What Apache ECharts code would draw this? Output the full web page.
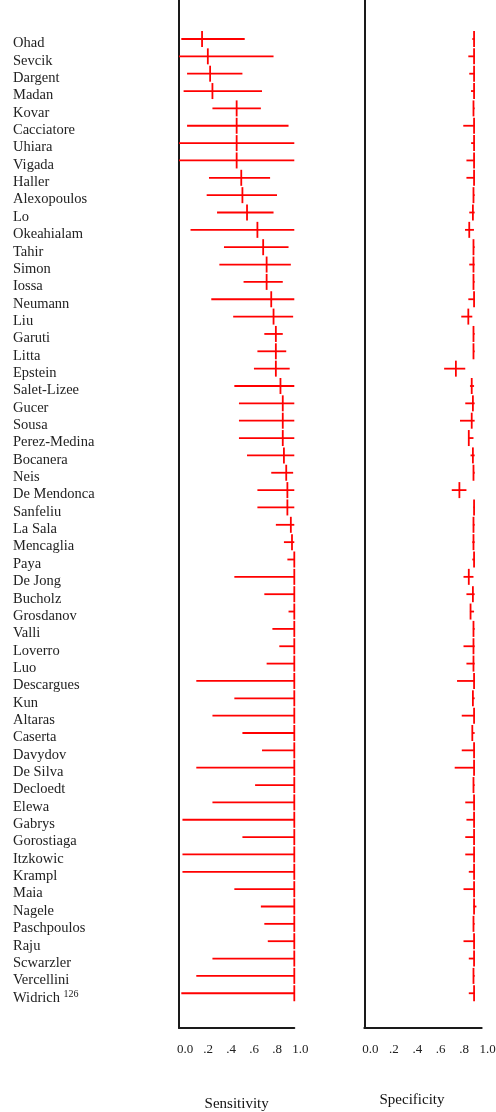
<!DOCTYPE html>
<html><head><meta charset="utf-8">
<script src="https://cdn.jsdelivr.net/npm/echarts@6/dist/echarts.min.js"></script>
<style>html,body{margin:0;padding:0;background:#fff}#c{width:496px;height:1112px}</style>
</head><body><div id="c"></div>
<script>
const studies = ["Ohad","Sevcik","Dargent","Madan","Kovar","Cacciatore","Uhiara","Vigada","Haller","Alexopoulos",
"Lo","Okeahialam","Tahir","Simon","Iossa","Neumann","Liu","Garuti","Litta","Epstein",
"Salet-Lizee","Gucer","Sousa","Perez-Medina","Bocanera","Neis","De Mendonca","Sanfeliu","La Sala","Mencaglia",
"Paya","De Jong","Bucholz","Grosdanov","Valli","Loverro","Luo","Descargues","Kun","Altaras",
"Caserta","Davydov","De Silva","Decloedt","Elewa","Gabrys","Gorostiaga","Itzkowic","Krampl","Maia",
"Nagele","Paschpoulos","Raju","Scwarzler","Vercellini","Widrich 126"];

const sensPoint = [0.20,0.25,0.27,0.29,0.50,0.50,0.50,0.50,0.54,0.55,
0.59,0.68,0.73,0.76,0.76,0.80,0.82,0.84,0.84,0.84,
0.88,0.90,0.90,0.90,0.91,0.93,0.94,0.94,0.97,0.98,
1.00,1.00,1.00,1.00,1.00,1.00,1.00,1.00,1.00,1.00,
1.00,1.00,1.00,1.00,1.00,1.00,1.00,1.00,1.00,1.00,
1.00,1.00,1.00,1.00,1.00,1.00];
const sensLower = [0.02,0.00,0.07,0.04,0.29,0.07,0.00,0.00,0.26,0.24,
0.33,0.10,0.39,0.35,0.56,0.28,0.47,0.74,0.68,0.65,
0.48,0.52,0.52,0.52,0.59,0.80,0.68,0.68,0.84,0.91,
0.94,0.48,0.74,0.95,0.81,0.87,0.76,0.15,0.48,0.29,
0.55,0.72,0.15,0.66,0.29,0.03,0.55,0.03,0.03,0.48,
0.71,0.74,0.77,0.29,0.15,0.02];
const sensUpper = [0.57,0.82,0.55,0.72,0.71,0.95,1.00,1.00,0.79,0.85,
0.82,1.00,0.95,0.97,0.90,1.00,0.99,0.90,0.93,0.96,
1.00,1.00,1.00,1.00,1.00,0.99,1.00,1.00,1.00,1.00,
1.00,1.00,1.00,1.00,1.00,1.00,1.00,1.00,1.00,1.00,
1.00,1.00,1.00,1.00,1.00,1.00,1.00,1.00,1.00,1.00,
1.00,1.00,1.00,1.00,1.00,1.00];

const specPoint = [0.935,0.935,0.935,0.935,0.930,0.935,0.935,0.935,0.935,0.930,
0.925,0.894,0.930,0.930,0.930,0.935,0.886,0.930,0.930,0.780,
0.915,0.925,0.915,0.890,0.925,0.930,0.810,0.935,0.930,0.930,
0.935,0.890,0.925,0.905,0.930,0.930,0.930,0.935,0.925,0.935,
0.920,0.935,0.935,0.930,0.935,0.935,0.935,0.935,0.935,0.935,
0.935,0.930,0.935,0.935,0.930,0.935];
const specLower = [0.920,0.886,0.894,0.909,0.930,0.843,0.910,0.870,0.870,0.930,
0.894,0.858,0.930,0.894,0.930,0.886,0.826,0.930,0.930,0.680,
0.900,0.860,0.815,0.890,0.905,0.930,0.745,0.930,0.925,0.920,
0.920,0.845,0.870,0.900,0.925,0.845,0.870,0.790,0.920,0.830,
0.920,0.830,0.770,0.930,0.860,0.870,0.860,0.860,0.890,0.845,
0.930,0.930,0.845,0.890,0.930,0.890];
const specUpper = [0.940,0.940,0.940,0.940,0.940,0.940,0.940,0.940,0.940,0.940,
0.940,0.934,0.940,0.940,0.940,0.940,0.920,0.940,0.940,0.860,
0.935,0.940,0.940,0.930,0.940,0.940,0.870,0.940,0.940,0.940,
0.940,0.930,0.940,0.935,0.940,0.940,0.940,0.940,0.940,0.940,
0.940,0.940,0.940,0.940,0.940,0.940,0.940,0.940,0.940,0.940,
0.955,0.940,0.940,0.940,0.940,0.940];

const xTicks = {0:"0.0",0.2:".2",0.4:".4",0.6:".6",0.8:".8",1:"1.0"};

const RED = '#ff0000';
const FONT = '"Liberation Serif", "DejaVu Serif", serif';

function rows(pt, lo, hi){ return studies.map((s,i)=>[i, pt[i], lo[i], hi[i]]); }

function renderItem(params, api){
  const i = api.value(0);
  const a = api.coord([api.value(2), i]);
  const b = api.coord([api.value(3), i]);
  const p = api.coord([api.value(1), i]);
  return {type:'group', children:[
    {type:'line', shape:{x1:a[0], y1:a[1], x2:b[0], y2:b[1]}, style:{stroke:RED, lineWidth:1.8}},
    {type:'line', shape:{x1:p[0], y1:p[1]-8, x2:p[0], y2:p[1]+8}, style:{stroke:RED, lineWidth:1.8}}
  ]};
}

const ROW = 17.35, FIRST = 39;
const gridTop = FIRST - 3*ROW;
const gridH = 60*ROW;

function xAxis(gi, name, gap, namePad){
  return {
    type:'value', gridIndex:gi, min:0, max:1, interval:0.2, position:'bottom',
    axisLine:{show:true, onZero:false, lineStyle:{color:'#1a1a1a', width:2}},
    axisTick:{show:false}, splitLine:{show:false},
    axisLabel:{fontFamily:FONT, fontSize:13, color:'#222', margin:15, padding:[0,0,0,12],
      formatter:v=>xTicks[Math.round(v*10)/10] ?? ''},
    name:name, nameLocation:'middle', nameGap:gap,
    nameTextStyle:{fontFamily:FONT, fontSize:15, color:'#111', padding:namePad}
  };
}
function yAxis(gi, showLabels){
  return {
    type:'value', gridIndex:gi, min:-3, max:57, interval:1, inverse:true,
    axisLine:{show:true, onZero:false, lineStyle:{color:'#1a1a1a', width:2}},
    axisTick:{show:false}, splitLine:{show:false},
    axisLabel:{show:showLabels, align:'left', margin:166, fontFamily:FONT, fontSize:14.5, color:'#222',
      padding:[9,0,0,0],
      formatter:v=>{
        const s = studies[v]; if(!s) return '';
        const m = s.match(/^(.*?) (\d+)$/);
        return m ? '{n|'+m[1]+'} {s|'+m[2]+'}' : s;
      },
      rich:{n:{fontFamily:FONT, fontSize:14.5, color:'#222'}, s:{fontFamily:FONT, fontSize:10, color:'#222', padding:[0,0,6,0]}}
    }
  };
}

const chart = echarts.init(document.getElementById('c'), null, {renderer:'canvas'});
chart.setOption({
  animation:false,
  backgroundColor:'#fff',
  grid:[
    {left:179, top:gridTop, width:115.3, height:gridH, outerBoundsMode:'none', containLabel:false},
    {left:364.3, top:gridTop, width:117.4, height:gridH, outerBoundsMode:'none', containLabel:false}
  ],
  xAxis:[xAxis(0,'Sensitivity',69,[0,0,0,0]), xAxis(1,'Specificity',65,[0,22,0,0])],
  yAxis:[yAxis(0,true), yAxis(1,false)],
  series:[
    {type:'custom', xAxisIndex:0, yAxisIndex:0, renderItem, data:rows(sensPoint,sensLower,sensUpper), encode:{x:[1,2,3], y:0}, clip:false},
    {type:'custom', xAxisIndex:1, yAxisIndex:1, renderItem, data:rows(specPoint,specLower,specUpper), encode:{x:[1,2,3], y:0}, clip:false}
  ]
});
</script></body></html>
